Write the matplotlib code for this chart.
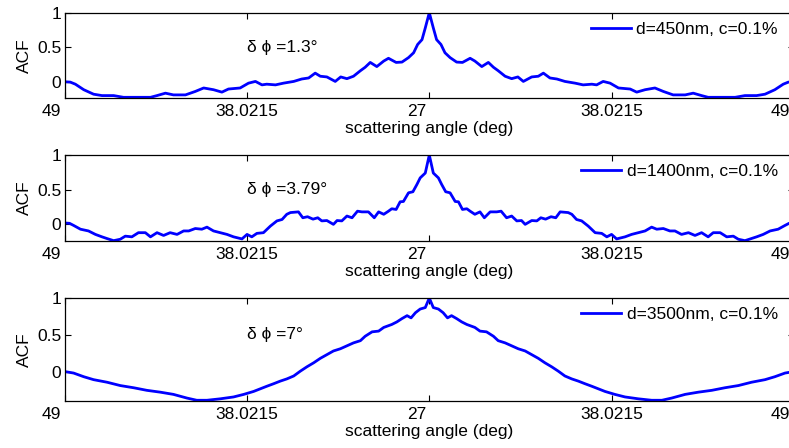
import numpy as np
import matplotlib
matplotlib.use("Agg")
import matplotlib.pyplot as plt
from matplotlib.transforms import ScaledTranslation

plt.rcParams['font.family'] = ['Liberation Sans', 'DejaVu Sans']
FS = 12.5

# ---- data (one half of each symmetric autocorrelation, normalized lag 0..1) ----
lag_450 = [0, 0.011, 0.020, 0.032, 0.043, 0.057, 0.075, 0.091, 0.112, 0.125,
           0.144, 0.162, 0.176, 0.189, 0.208, 0.226, 0.243, 0.258, 0.281, 0.299,
           0.313, 0.331, 0.350, 0.372, 0.400, 0.422, 0.446, 0.459, 0.477, 0.496,
           0.519, 0.551, 0.569, 0.592, 0.619, 0.642, 0.669, 0.702, 0.724, 0.747,
           0.765, 0.802, 0.839, 0.866, 0.898, 0.921, 0.948, 0.971, 0.985, 1.0]
acf_450 = [1.0, 0.78, 0.61, 0.54, 0.42, 0.35, 0.285, 0.28, 0.34, 0.30,
           0.22, 0.28, 0.21, 0.16, 0.08, 0.045, 0.07, 0.005, 0.07, 0.08,
           0.125, 0.055, 0.04, 0.005, -0.02, -0.045, -0.035, -0.045, 0.005, -0.02,
           -0.09, -0.105, -0.15, -0.115, -0.09, -0.14, -0.19, -0.19, -0.165, -0.20,
           -0.225, -0.225, -0.225, -0.20, -0.20, -0.18, -0.115, -0.035, -0.005, 0.0]

lag_1400 = [0, 0.011, 0.025, 0.034, 0.045, 0.057, 0.071, 0.080, 0.091, 0.103,
            0.112, 0.125, 0.139, 0.151, 0.167, 0.185, 0.197, 0.212, 0.226, 0.240,
            0.253, 0.263, 0.281, 0.295, 0.306, 0.319, 0.334, 0.347, 0.359, 0.381,
            0.391, 0.404, 0.418, 0.436, 0.455, 0.473, 0.487, 0.500, 0.514, 0.537,
            0.555, 0.573, 0.592, 0.610, 0.624, 0.642, 0.660, 0.674, 0.692, 0.711,
            0.729, 0.747, 0.765, 0.779, 0.798, 0.816, 0.834, 0.848, 0.866, 0.884,
            0.898, 0.916, 0.935, 0.957, 0.976, 0.987, 1.0]
acf_1400 = [1.0, 0.74, 0.67, 0.575, 0.47, 0.455, 0.33, 0.325, 0.215, 0.225,
            0.19, 0.145, 0.18, 0.095, 0.18, 0.18, 0.19, 0.095, 0.12, 0.05,
            0.055, 0.0, 0.055, 0.05, 0.095, 0.075, 0.11, 0.095, 0.18, 0.17,
            0.145, 0.07, 0.05, -0.025, -0.12, -0.13, -0.18, -0.145, -0.21, -0.18,
            -0.145, -0.12, -0.095, -0.04, -0.07, -0.06, -0.095, -0.095, -0.145, -0.12,
            -0.16, -0.12, -0.18, -0.12, -0.12, -0.18, -0.17, -0.215, -0.235, -0.205,
            -0.18, -0.145, -0.095, -0.07, -0.015, 0.015, 0.02]

lag_3500 = [0, 0.011, 0.025, 0.038, 0.050, 0.061, 0.075, 0.089, 0.103, 0.125,
            0.139, 0.157, 0.176, 0.189, 0.208, 0.226, 0.244, 0.263, 0.281, 0.299,
            0.317, 0.336, 0.354, 0.372, 0.391, 0.409, 0.427, 0.446, 0.464, 0.482,
            0.509, 0.537, 0.573, 0.610, 0.638, 0.665, 0.702, 0.738, 0.775, 0.811,
            0.848, 0.884, 0.921, 0.948, 0.976, 1.0]
acf_3500 = [1.0, 0.87, 0.85, 0.80, 0.73, 0.76, 0.72, 0.675, 0.64, 0.60,
            0.55, 0.54, 0.48, 0.42, 0.39, 0.35, 0.31, 0.28, 0.23, 0.18,
            0.12, 0.064, 0.005, -0.06, -0.10, -0.13, -0.165, -0.20, -0.235, -0.27,
            -0.31, -0.345, -0.37, -0.39, -0.39, -0.36, -0.31, -0.28, -0.255, -0.22,
            -0.19, -0.145, -0.11, -0.07, -0.02, 0.0]

labels = ['d=450nm, c=0.1%', 'd=1400nm, c=0.1%', 'd=3500nm, c=0.1%']
notes = ['δ ϕ =1.3°', 'δ ϕ =3.79°', 'δ ϕ =7°']
ylims = [(-0.235, 1.0), (-0.24, 1.0), (-0.40, 1.0)]

xtick_pos = [-1, -0.5, 0, 0.5, 1]
xtick_labels = ['49', '38.0215', '27', '38.0215', '49']
ytick_pos = [0, 0.5, 1]
ytick_labels = ['0', '0.5', '1']

halves = [(lag_450, acf_450), (lag_1400, acf_1400), (lag_3500, acf_3500)]

# ---- layout (pixels, y from top) ----
W, H = 789, 448
left_px, right_px = 64.8, 793.8
boxes = [(12.7, 98.0), (155.0, 241.0), (298.0, 401.0)]

fig = plt.figure(figsize=(W / 100, H / 100), dpi=100)

for i, ((lag, acf), (top, bot)) in enumerate(zip(halves, boxes)):
    ax = fig.add_axes([left_px / W, (H - bot) / H, (right_px - left_px) / W, (bot - top) / H])
    lag = np.asarray(lag)
    acf = np.asarray(acf)
    x = np.concatenate([-lag[::-1], lag[1:]])
    y = np.concatenate([acf[::-1], acf[1:]])
    ax.plot(x, y, color='#0000ff', lw=2.0, label=labels[i])
    ax.set_xlim(-1, 1)
    ax.set_ylim(*ylims[i])
    ax.tick_params(direction='in', top=True, right=True, length=4.3, width=0.8,
                   labelsize=FS, colors='black')
    ax.tick_params(axis='x', pad=4.5)
    ax.tick_params(axis='y', pad=2.5)
    ax.set_xticks(xtick_pos)
    ax.set_xticklabels(xtick_labels)
    ax.set_yticks(ytick_pos)
    ax.set_yticklabels(ytick_labels)
    for sp in ax.spines.values():
        sp.set_linewidth(0.9)
    off = ScaledTranslation(-13 / 100, 0, fig.dpi_scale_trans)
    for lab in ax.get_xticklabels():
        if lab.get_text() in ('49', '27'):
            lab.set_transform(lab.get_transform() + off)
    ax.set_xlabel('scattering angle (deg)', fontsize=FS, labelpad=1.5)
    ax.set_ylabel('ACF', fontsize=FS, labelpad=4)
    ax.text(-0.5, 0.5, notes[i], fontsize=FS, ha='left', va='center',
            family=['Liberation Sans', 'DejaVu Sans'])
    hpx = bot - top
    ax.legend(loc='center right', bbox_to_anchor=(0.978, 1 - 16.3 / hpx),
              frameon=False, fontsize=FS, borderpad=0, borderaxespad=0,
              handlelength=2.3, handletextpad=0.3)

fig.savefig('out.png', dpi=100)
